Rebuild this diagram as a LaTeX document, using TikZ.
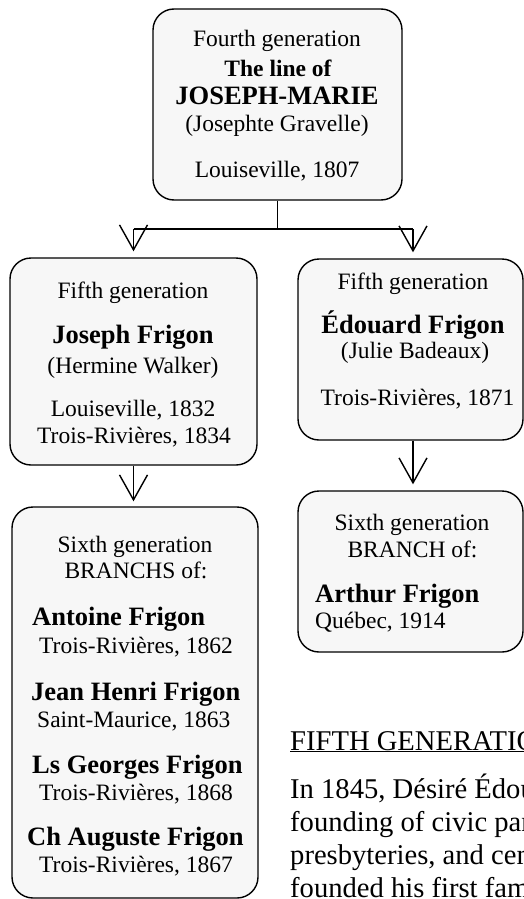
\documentclass[tikz,border=0pt]{standalone}
\usepackage{fontspec}
\setmainfont{Liberation Serif}
\usetikzlibrary{arrows.meta,calc}
\newcommand{\fsN}{\fontsize{23.5}{28}\selectfont}
\newcommand{\fsB}{\bfseries\fontsize{26.5}{30}\selectfont}
\newcommand{\fsT}{\fontsize{28.6}{33}\selectfont}
\tikzset{
  genbox/.style={draw=black, line width=1.4pt, fill=black!3, rounded corners=21pt, inner sep=0pt},
  txt/.style={inner sep=0pt, anchor=base, font=\fsN},
  txtl/.style={inner sep=0pt, anchor=base west, font=\fsN},
  persname/.style={inner sep=0pt, anchor=base, font=\fsB},
  persnamel/.style={inner sep=0pt, anchor=base west, font=\fsB},
  linkline/.style={line width=1.4pt},
  arr/.style={line width=1.4pt, -{Straight Barb[length=25pt,width=28pt,line width=1.4pt]}},
  bodytext/.style={inner sep=0pt, anchor=base west, font=\fsT}
}
\begin{document}
\begin{tikzpicture}[x=1pt,y=-1pt]
\useasboundingbox (0,0) rectangle (524,899);
\begin{scope}
\clip (0,0) rectangle (524,899);
% boxes
\node[genbox, minimum width=249pt, minimum height=191pt] (top) at (277.5,104.5) {};
\node[genbox, minimum width=247pt, minimum height=207pt] (fifthL) at (133.5,361.5) {};
\node[genbox, minimum width=225pt, minimum height=181pt] (fifthR) at (410.5,349.5) {};
\node[genbox, minimum width=246pt, minimum height=391pt] (sixthL) at (135,702.5) {};
\node[genbox, minimum width=225pt, minimum height=161pt] (sixthR) at (410.5,571.5) {};
% connectors
\coordinate (j) at ($(top.south)+(0,29)$);
\coordinate (jL) at (133.5,229);
\coordinate (jR) at (413,229);
\draw[linkline] (top.south) -- (j);
\draw[linkline] (jL) -- (jR);
\draw[arr, shorten >=6pt] (jL) -- (jL |- fifthL.north);
\draw[arr, shorten >=6pt] (jR) -- (jR |- fifthR.north);
\draw[arr, shorten >=5pt] (fifthL.south) -- (fifthL.south |- sixthL.north);
\coordinate (kR) at ($(fifthR.south)+(2.5,0)$);
\draw[arr, shorten >=6pt] (kR) -- (kR |- sixthR.north);
% top box text
\node[txt] (t1) at (277,47) {Fourth generation};
\node[persname, font=\bfseries\fontsize{23.5}{28}\selectfont] (t2) at (278,76) {The line of};
\node[persname] (t3) at (277,104) {JOSEPH-MARIE};
\node[txt] (t4) at (277,131) {(Josephte Gravelle)};
\node[txt] (t5) at (277,177) {Louiseville, 1807};
% fifth left
\node[txt] (a1) at (133,298) {Fifth generation};
\node[persname] (a2) at (133,343) {Joseph Frigon};
\node[txt] (a3) at (133,373) {(Hermine Walker)};
\node[txt] (a4) at (133,416) {Louiseville, 1832};
\node[txt] (a5) at (134,443) {Trois-Rivières, 1834};
% fifth right
\node[txt] (b1) at (413,289) {Fifth generation};
\node[persname] (b2) at (413,333) {Édouard Frigon};
\node[txt] (b3) at (415,358) {(Julie Badeaux)};
\node[txt] (b4) at (417.5,405) {Trois-Rivières, 1871};
% sixth left
\node[txt] (c1) at (135,552) {Sixth generation};
\node[txt] (c2) at (136,578) {BRANCHS of:};
\node[persnamel] (c3) at (32,625) {Antoine Frigon};
\node[txtl] (c4) at (39,653) {Trois-Rivières, 1862};
\node[persnamel] (c5) at (31,700) {Jean Henri Frigon};
\node[txtl] (c6) at (37,727) {Saint-Maurice, 1863};
\node[persnamel] (c7) at (32,773) {Ls Georges Frigon};
\node[txtl] (c8) at (39,800) {Trois-Rivières, 1868};
\node[persnamel] (c9) at (27,845) {Ch Auguste Frigon};
\node[txtl] (c10) at (39,872) {Trois-Rivières, 1867};
% sixth right
\node[txt] (d1) at (412,530) {Sixth generation};
\node[txt] (d2) at (412.5,557) {BRANCH of:};
\node[persnamel] (d3) at (315,602) {Arthur Frigon};
\node[txtl] (d4) at (315,628) {Québec, 1914};
% body text (cut off at the right edge, as in the reference)
\node[bodytext] (h) at (290,750) {\underline{FIFTH GENERATION}};
\node[bodytext] (p1) at (290,798) {In 1845, Désiré Édouard};
\node[bodytext] (p2) at (290,831) {founding of civic parishes};
\node[bodytext] (p3) at (290,864) {presbyteries, and cemeteries};
\node[bodytext] (p4) at (290,897) {founded his first family};
\end{scope}
\end{tikzpicture}
\end{document}
